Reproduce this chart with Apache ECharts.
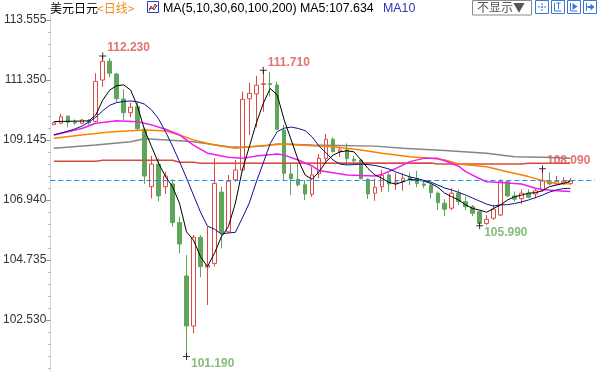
<!DOCTYPE html>
<html>
<head>
<meta charset="utf-8">
<script src="https://cdn.jsdelivr.net/npm/echarts@6/dist/echarts.min.js"></script>
<style>
html,body{margin:0;padding:0;background:#fff;}
#chart{width:597px;height:371px;}
</style>
</head>
<body>
<div id="chart"></div>
<script>
// ---------- data ----------
const opens  = [109.71,109.76,110.02,109.81,109.76,109.85,109.83,111.35,112.04,111.57,
                110.65,110.15,110.37,109.54,107.43,108.26,107.43,107.53,106.11,104.15,
                102.31,105.57,104.47,104.61,107.23,105.77,107.68,108.04,110.66,110.84,
                111.19,111.22,111.17,109.51,107.90,107.70,107.50,107.15,107.90,108.47,
                109.17,108.72,108.78,108.44,108.41,107.70,107.19,107.43,107.86,107.55,
                107.61,107.77,107.74,107.53,107.49,107.19,106.82,106.64,107.19,106.88,
                106.69,106.51,106.08,106.27,106.39,107.61,107.09,106.99,107.19,107.16,
                107.31,107.61,107.53,107.57,107.55];
const closes = [109.78,110.00,109.80,109.77,109.88,109.78,111.30,112.04,111.60,110.66,
                110.15,110.35,109.56,107.82,108.26,107.09,107.82,106.11,105.32,102.31,
                105.57,104.49,104.54,107.55,105.74,107.63,108.04,110.64,110.86,111.16,
                111.21,111.18,109.54,107.92,107.72,107.50,107.16,107.86,108.47,109.17,
                108.72,108.78,108.46,108.38,107.72,107.16,107.41,107.85,107.53,107.60,
                107.74,107.70,107.55,107.48,107.21,106.84,106.60,107.19,106.88,106.69,
                106.45,106.08,106.23,106.60,107.61,107.09,106.97,107.19,107.04,107.28,
                107.65,107.53,107.61,107.63,107.65];
const lows   = [109.70,109.73,109.61,109.70,109.72,109.70,109.80,111.10,111.45,110.54,
                109.88,109.98,109.51,107.53,107.00,106.89,107.16,105.96,104.98,101.19,
                102.04,104.10,103.08,104.49,105.16,105.74,107.61,108.02,109.33,109.61,
                110.18,110.74,109.50,107.67,107.12,107.43,106.94,107.06,107.74,108.29,
                108.68,108.53,108.23,108.29,107.70,106.98,106.91,107.24,107.24,107.31,
                107.28,107.49,107.41,107.37,107.00,106.57,106.35,106.57,106.76,106.57,
                106.35,105.99,106.02,106.21,106.35,107.06,106.88,106.79,107.00,107.00,
                107.24,107.49,107.49,107.49,107.49];
const highs  = [109.80,110.10,110.05,109.90,109.92,109.92,111.60,112.23,112.15,111.62,
                111.01,110.52,110.55,109.60,108.56,108.47,107.98,107.70,106.33,104.92,
                105.65,105.65,105.96,108.47,107.43,107.86,108.41,110.92,111.25,111.50,
                111.71,111.65,111.29,109.70,108.31,108.26,107.67,108.16,108.63,109.37,
                109.24,108.90,109.02,108.56,108.44,107.74,107.74,108.04,107.94,107.93,
                107.92,107.94,108.01,107.67,107.55,107.25,106.97,107.37,107.33,107.06,
                106.76,106.55,106.39,106.76,107.70,107.63,107.25,107.33,107.33,107.37,
                108.09,107.95,107.82,107.78,107.75];

const ma5  = [109.82,109.83,109.83,109.84,109.84,109.85,110.06,110.61,110.98,111.14,
              111.17,110.98,110.37,109.51,108.90,108.29,107.80,107.43,106.82,105.77,
              105.47,104.86,104.49,104.98,105.59,105.96,106.82,108.04,108.90,109.76,
              110.49,111.04,110.80,109.88,109.15,108.41,107.86,107.70,107.98,108.35,
              108.59,108.71,108.75,108.71,108.41,108.10,107.86,107.74,107.59,107.52,
              107.61,107.70,107.67,107.64,107.55,107.41,107.19,107.06,106.94,106.76,
              106.63,106.57,106.49,106.63,106.76,106.94,107.06,107.12,107.19,107.21,
              107.28,107.43,107.49,107.55,107.63];
const ma10 = [109.33,109.40,109.47,109.55,109.65,109.80,109.98,110.22,110.42,110.52,
              110.56,110.58,110.55,110.46,110.25,109.92,109.45,108.92,108.35,107.75,
              107.12,106.50,105.98,105.87,105.69,105.73,105.75,106.28,106.83,107.60,
              108.30,109.02,109.45,109.58,109.62,109.57,109.49,109.26,108.92,108.67,
              108.41,108.26,108.23,108.24,108.26,108.24,108.21,108.15,108.08,107.97,
              107.88,107.79,107.73,107.66,107.60,107.49,107.38,107.31,107.22,107.12,
              107.01,106.90,106.79,106.72,106.76,106.77,106.81,106.87,106.94,107.03,
              107.12,107.23,107.31,107.36,107.37];
// [candle index, value] readings for the slower averages
const ma30 = [[0,109.33],[4,109.57],[6,109.76],[9,109.85],[12,109.82],[14,109.70],[16,109.54],
              [18,109.33],[20,108.96],[22,108.66],[25,108.51],[27,108.47],[29,108.56],[32,108.63],
              [33,108.59],[35,108.41],[37,108.19],[38,108.02],[40,107.94],[42,107.86],[46,107.82],
              [47,107.88],[49,108.10],[51,108.35],[53,108.47],[55,108.47],[56,108.38],[58,108.18],
              [59,107.98],[61,107.72],[62,107.61],[64,107.58],[67,107.53],[69,107.37],[70,107.33],
              [72,107.28],[74,107.25]];
const ma60 = [[0,109.21],[4,109.33],[8,109.44],[13,109.51],[16,109.48],[18,109.33],[20,109.15],
              [23,108.96],[26,108.84],[28,108.90],[31,108.96],[33,109.00],[37,108.93],[40,108.90],
              [44,108.78],[47,108.66],[51,108.53],[54,108.47],[56,108.41],[58,108.26],[62,108.16],
              [65,107.98],[68,107.80],[70,107.65],[72,107.55],[74,107.54]];
const ma100 = [[0,108.84],[6,108.96],[11,109.08],[13,109.19],[18,109.12],[20,109.08],[25,108.90],
               [27,108.88],[30,108.92],[32,109.00],[37,108.96],[46,108.92],[50,108.84],[56,108.76],
               [62,108.66],[66,108.53],[70,108.51],[74,108.47]];
const ma200 = [[0,108.36],[6,108.36],[7,108.40],[17,108.40],[18,108.33],[20,108.33],[21,108.29],
               [54,108.30],[55,108.26],[67,108.26],[68,108.29],[74,108.29]];

const tickLabels = ['102.530','104.735','106.940','109.145','111.350','113.555'];
const markIndex = [7, 19, 30, 61, 70];
const markType  = ['high','low','high','low','high'];
const lastPrice = 107.65;
const categories = Array.from({length: 78}, (_, i) => 'D' + (i + 1));

// ---------- chart ----------
const RED = '#dc4a44', GREEN = '#5ea65a';
const tickValues = tickLabels.map(Number);
const minorValues = [];
for (let k = -4; k <= 25; k++) {
  if (k % 5 === 0) continue;
  const v = +(102.530 + k * 0.441).toFixed(3);
  if (v > 100.656 && v < 113.702) minorValues.push(v);
}
const candleData = opens.map((o, i) => [o, closes[i], lows[i], highs[i]]);
const markData = markIndex.map((idx, j) => {
  const isHigh = markType[j] === 'high';
  const v = isHigh ? highs[idx] : lows[idx];
  return {
    value: [idx, v],
    label: {
      show: true, position: 'right', distance: 1,
      offset: [0, isHigh ? -8 : 7],
      formatter: v.toFixed(3),
      color: isHigh ? '#d9504c' : '#6aaa5c',
      fontSize: 12, fontWeight: 'bold', fontFamily: 'Liberation Sans'
    }
  };
});
function maLine(name, data, color, width) {
  return {name, type: 'line', data, symbol: 'none', showSymbol: false, silent: true,
    lineStyle: {color, width}, z: 3, animation: false};
}

const chart = echarts.init(document.getElementById('chart'), null, {renderer: 'canvas'});
const latin = 'Liberation Sans';
const cjk = '"Noto Sans CJK SC"';
const btnX = [535.5, 551.5, 567.5, 583.5];
const graphics = [
  {type: 'text', left: 50, top: 2, style: {text: '美元日元', fill: '#000', font: '12px ' + cjk}},
  {type: 'text', left: 97, top: 2, style: {text: '<日线>', fill: '#f28a1e', font: '12px ' + cjk}},
  {type: 'rect', shape: {x: 147.5, y: 1.5, width: 11, height: 11}, style: {fill: '#fff', stroke: '#2a3fb0', lineWidth: 1}},
  {type: 'polyline', shape: {points: [[149, 11], [151, 6], [153, 9], [155, 4], [157, 7]]}, style: {stroke: '#d02020', lineWidth: 1, fill: null}},
  {type: 'polyline', shape: {points: [[149, 9], [152, 8], [154, 10], [157, 5]]}, style: {stroke: '#2a3fb0', lineWidth: 1, fill: null}},
  {type: 'text', left: 163, top: 2.5, style: {text: 'MA(5,10,30,60,100,200)', fill: '#000', font: '12.4px ' + latin}},
  {type: 'text', left: 300, top: 2.5, style: {text: 'MA5:107.634', fill: '#000', font: '12.4px ' + latin}},
  {type: 'text', left: 383, top: 2.5, style: {text: 'MA10', fill: '#3434b4', font: '12.4px ' + latin}},
  {type: 'rect', shape: {x: 472.5, y: 0.5, width: 59, height: 14.5}, style: {fill: '#fff', stroke: '#8a8a8a', lineWidth: 1}},
  {type: 'text', left: 477, top: 1, style: {text: '不显示▼', fill: '#555', font: '12px ' + cjk}}
];
btnX.forEach((x) => {
  graphics.push({type: 'rect', shape: {x: x, y: 0.5, width: 13, height: 13}, style: {fill: '#fff', stroke: '#3a78d0', lineWidth: 1}});
});
graphics.push(
  {type: 'line', shape: {x1: btnX[0] + 6.5, y1: 3, x2: btnX[0] + 6.5, y2: 11}, style: {stroke: '#3a78d0', lineDash: [2, 1]}},
  {type: 'line', shape: {x1: btnX[0] + 2.5, y1: 7, x2: btnX[0] + 10.5, y2: 7}, style: {stroke: '#3a78d0', lineDash: [2, 1]}},
  {type: 'polyline', shape: {points: [[btnX[1] + 3, 3], [btnX[1] + 3, 11], [btnX[1] + 10, 11]]}, style: {stroke: '#3a78d0', fill: null}},
  {type: 'line', shape: {x1: btnX[1] + 7, y1: 3, x2: btnX[1] + 7, y2: 9}, style: {stroke: '#3a78d0'}},
  {type: 'line', shape: {x1: btnX[1] + 5, y1: 3, x2: btnX[1] + 9, y2: 3}, style: {stroke: '#3a78d0'}},
  {type: 'polyline', shape: {points: [[btnX[2] + 3, 3], [btnX[2] + 3, 11], [btnX[2] + 10, 11]]}, style: {stroke: '#3a78d0', fill: null}},
  {type: 'polygon', shape: {points: [[btnX[2] + 5, 3], [btnX[2] + 10, 6.5], [btnX[2] + 5, 10]]}, style: {fill: '#3a78d0'}},
  {type: 'line', shape: {x1: btnX[3] + 3, y1: 3, x2: btnX[3] + 3, y2: 11}, style: {stroke: '#3a78d0'}},
  {type: 'polygon', shape: {points: [[btnX[3] + 7, 3.5], [btnX[3] + 11, 7], [btnX[3] + 7, 10.5]]}, style: {fill: '#3a78d0'}},
  {type: 'line', shape: {x1: btnX[3] + 4, y1: 7, x2: btnX[3] + 8, y2: 7}, style: {stroke: '#3a78d0', lineWidth: 2}}
);

chart.setOption({
  animation: false,
  backgroundColor: '#fff',
  grid: {left: 48.8, right: 2.2, top: 16, bottom: 0, containLabel: false},
  xAxis: {type: 'category', data: categories, boundaryGap: true, show: false},
  yAxis: [{
    type: 'value', min: 100.656, max: 113.702, position: 'left', scale: true,
    axisLine: {show: true, lineStyle: {color: '#cdd5de', width: 1}},
    axisTick: {show: true, inside: false, length: 4, lineStyle: {color: '#8f8f8f'}, customValues: tickValues},
    axisLabel: {show: true, color: '#333', fontSize: 12, fontFamily: latin, margin: 4,
      customValues: tickValues, formatter: (v) => v.toFixed(3)},
    splitLine: {show: false}
  }, {
    type: 'value', min: 100.656, max: 113.702, position: 'left', scale: true,
    axisLine: {show: false},
    axisTick: {show: true, inside: false, length: 2, lineStyle: {color: '#a8a8a8'}, customValues: minorValues},
    axisLabel: {show: false},
    splitLine: {show: false}
  }],
  graphic: graphics,
  series: [
    {
      type: 'candlestick', data: candleData, barWidth: 4, z: 2,
      itemStyle: {color: '#ffffff', color0: GREEN, borderColor: RED, borderColor0: GREEN,
        borderColorDoji: RED, borderWidth: 1},
      markLine: {
        silent: true, symbol: ['none', 'none'], label: {show: false},
        lineStyle: {color: '#1e8ff0', type: [5, 3], width: 1},
        data: [{yAxis: lastPrice}]
      }
    },
    maLine('MA200', ma200, '#d94a40', 1.5),
    maLine('MA100', ma100, '#858585', 1.5),
    maLine('MA60', ma60, '#ff8000', 1.5),
    maLine('MA30', ma30, '#f01df0', 1.5),
    maLine('MA10', ma10, '#10108a', 1),
    maLine('MA5', ma5, '#000000', 1),
    {
      type: 'scatter', data: markData, z: 5,
      symbol: 'path://M3,0H4V3H7V4H4V7H3V4H0V3H3Z', symbolSize: 7,
      itemStyle: {color: '#000'}, silent: true
    }
  ]
});
</script>
</body>
</html>
